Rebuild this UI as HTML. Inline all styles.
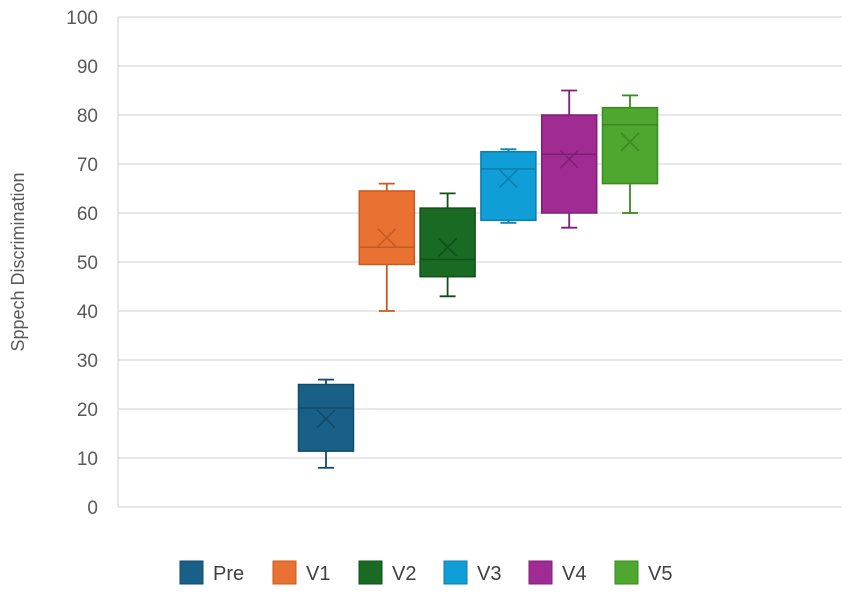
<!DOCTYPE html>
<html><head><meta charset="utf-8"><style>
body{margin:0;background:#fff;font-family:"Liberation Sans",sans-serif;}
</style></head><body>
<svg id="chart" width="851" height="591" xmlns="http://www.w3.org/2000/svg"></svg>
<script>
const categories=["Pre","V1","V2","V3","V4","V5"];
const mins=[8,40,43,58,57,60];
const q1s=[11.4,49.5,47,58.5,60,66];
const medians=[20.2,53,50.5,69,72,78];
const q3s=[25,64.5,61,72.5,80,81.5];
const maxs=[26,66,64,73,85,84];
const means=[18,55,53,67,71,74.5];
const yTicks=[0,10,20,30,40,50,60,70,80,90,100];
const fills=["#196089","#e97132","#196b24","#0f9ed5","#a02b93","#4ea72e"];
const strokes=["#124a6a","#c75a20","#0f5018","#0b7fae","#7f1f74","#3a8a20"];
const NS="http://www.w3.org/2000/svg";
const svg=document.getElementById("chart");
const y=v=>507-v*4.9;
const x=i=>326+i*60.8;
const bw=55;
function mk(t,a,p){const e=document.createElementNS(NS,t);for(const k in a)e.setAttribute(k,a[k]);(p||svg).appendChild(e);return e;}
yTicks.forEach(t=>{
  const g=mk("line",{x1:118,x2:842,y1:y(t),y2:y(t),stroke:"#d9d9d9","stroke-width":1.3});
  
  
  const l=mk("text",{x:98,y:y(t)+7,"text-anchor":"end","font-size":19,fill:"#595959"});
  l.textContent=t;
  
  
});
mk("line",{x1:118,x2:118,y1:17,y2:507,stroke:"#d9d9d9","stroke-width":1.3});
const yt=mk("text",{x:0,y:0,transform:"translate(24,262) rotate(-90)","text-anchor":"middle","font-size":18,fill:"#595959"});
yt.textContent="Sppech Discrimination";


categories.forEach((c,i)=>{
  const cx=x(i),s=strokes[i];
  const g=mk("g",{});
  
  
  mk("line",{x1:cx,x2:cx,y1:y(maxs[i]),y2:y(q3s[i]),stroke:s,"stroke-width":1.8},g);
  mk("line",{x1:cx,x2:cx,y1:y(q1s[i]),y2:y(mins[i]),stroke:s,"stroke-width":1.8},g);
  mk("line",{x1:cx-8,x2:cx+8,y1:y(maxs[i]),y2:y(maxs[i]),stroke:s,"stroke-width":1.8},g);
  mk("line",{x1:cx-8,x2:cx+8,y1:y(mins[i]),y2:y(mins[i]),stroke:s,"stroke-width":1.8},g);
  mk("rect",{x:cx-bw/2,y:y(q3s[i]),width:bw,height:y(q1s[i])-y(q3s[i]),fill:fills[i],stroke:s,"stroke-width":1.5},g);
  mk("line",{x1:cx-bw/2,x2:cx+bw/2,y1:y(medians[i]),y2:y(medians[i]),stroke:s,"stroke-width":1.5},g);
  const m=y(means[i]);
  mk("path",{d:`M${cx-9},${m-9}L${cx+9},${m+9}M${cx+9},${m-9}L${cx-9},${m+9}`,stroke:s,"stroke-width":1.5},g);
});
const lx=[180,273,359,444,529,615];
categories.forEach((c,i)=>{
  const g=mk("g",{});
  
  
  mk("rect",{x:lx[i],y:561,width:23,height:23,fill:fills[i],stroke:strokes[i]},g);
  const t=mk("text",{x:lx[i]+33,y:580,"font-size":20,fill:"#404040"},g);
  t.textContent=c;
});
</script>
</body></html>
